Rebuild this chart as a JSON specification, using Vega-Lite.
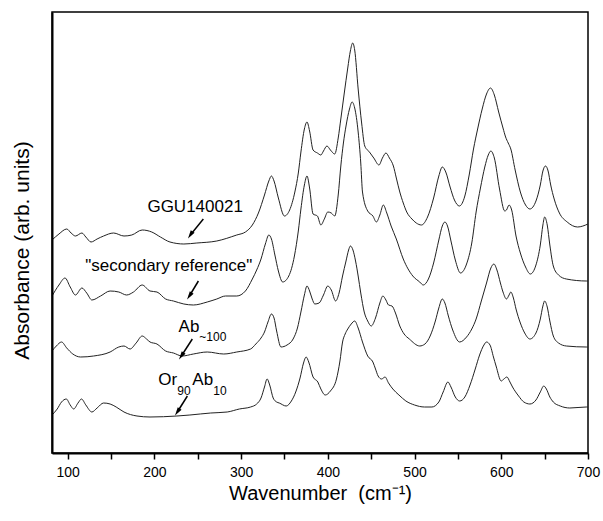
{
  "$schema": "https://vega.github.io/schema/vega-lite/v6.json",
  "width": 536,
  "height": 441,
  "autosize": {"type": "none"},
  "padding": {"left": 52, "top": 12, "right": 15, "bottom": 68},
  "background": "white",
  "config": {
    "view": {"stroke": "black", "strokeWidth": 1.5},
    "font": "Liberation Sans"
  },
  "datasets": {
    "spectra": [
      {"s":"GGU140021","w":82,"a":213},{"s":"GGU140021","w":90,"a":219},{"s":"GGU140021","w":99,"a":224},{"s":"GGU140021","w":104,"a":220},{"s":"GGU140021","w":109,"a":217},{"s":"GGU140021","w":116.5,"a":220},{"s":"GGU140021","w":121,"a":216},{"s":"GGU140021","w":127,"a":211},{"s":"GGU140021","w":134,"a":214},{"s":"GGU140021","w":141.5,"a":217},{"s":"GGU140021","w":153,"a":220},{"s":"GGU140021","w":165,"a":217},{"s":"GGU140021","w":174,"a":218},{"s":"GGU140021","w":186,"a":223},{"s":"GGU140021","w":197,"a":221},{"s":"GGU140021","w":207,"a":216},{"s":"GGU140021","w":218,"a":211},{"s":"GGU140021","w":234,"a":209},{"s":"GGU140021","w":249,"a":210},{"s":"GGU140021","w":272,"a":212},{"s":"GGU140021","w":295,"a":218},{"s":"GGU140021","w":305,"a":221},{"s":"GGU140021","w":313,"a":228},{"s":"GGU140021","w":320,"a":240},{"s":"GGU140021","w":327,"a":258},{"s":"GGU140021","w":332,"a":272},{"s":"GGU140021","w":335,"a":277},{"s":"GGU140021","w":338,"a":272},{"s":"GGU140021","w":343,"a":255},{"s":"GGU140021","w":350,"a":237},{"s":"GGU140021","w":356,"a":243},{"s":"GGU140021","w":362,"a":261},{"s":"GGU140021","w":366,"a":280},{"s":"GGU140021","w":369,"a":301},{"s":"GGU140021","w":373,"a":324},{"s":"GGU140021","w":376,"a":331},{"s":"GGU140021","w":379,"a":322},{"s":"GGU140021","w":383,"a":303},{"s":"GGU140021","w":388,"a":300},{"s":"GGU140021","w":392,"a":298},{"s":"GGU140021","w":395,"a":302},{"s":"GGU140021","w":399,"a":307},{"s":"GGU140021","w":403,"a":303},{"s":"GGU140021","w":408,"a":299},{"s":"GGU140021","w":412,"a":315},{"s":"GGU140021","w":415,"a":334},{"s":"GGU140021","w":419,"a":360},{"s":"GGU140021","w":423,"a":385},{"s":"GGU140021","w":426,"a":402},{"s":"GGU140021","w":428.7,"a":410},{"s":"GGU140021","w":431,"a":403},{"s":"GGU140021","w":435,"a":364},{"s":"GGU140021","w":439,"a":330},{"s":"GGU140021","w":442.6,"a":307},{"s":"GGU140021","w":448,"a":301},{"s":"GGU140021","w":453,"a":295},{"s":"GGU140021","w":459,"a":288},{"s":"GGU140021","w":463,"a":295},{"s":"GGU140021","w":467,"a":300},{"s":"GGU140021","w":471,"a":295},{"s":"GGU140021","w":475.6,"a":287},{"s":"GGU140021","w":479,"a":275},{"s":"GGU140021","w":483,"a":261},{"s":"GGU140021","w":487,"a":250},{"s":"GGU140021","w":491,"a":241},{"s":"GGU140021","w":497,"a":234},{"s":"GGU140021","w":502,"a":230},{"s":"GGU140021","w":508,"a":228},{"s":"GGU140021","w":515,"a":236},{"s":"GGU140021","w":522,"a":255},{"s":"GGU140021","w":528,"a":277},{"s":"GGU140021","w":532,"a":286},{"s":"GGU140021","w":536,"a":281},{"s":"GGU140021","w":541,"a":266},{"s":"GGU140021","w":546,"a":253},{"s":"GGU140021","w":551.7,"a":247},{"s":"GGU140021","w":558,"a":257},{"s":"GGU140021","w":563,"a":278},{"s":"GGU140021","w":568,"a":304},{"s":"GGU140021","w":573,"a":325},{"s":"GGU140021","w":578,"a":344},{"s":"GGU140021","w":583,"a":359},{"s":"GGU140021","w":587.6,"a":365},{"s":"GGU140021","w":592,"a":358},{"s":"GGU140021","w":597,"a":341},{"s":"GGU140021","w":602,"a":325},{"s":"GGU140021","w":605,"a":316},{"s":"GGU140021","w":608,"a":310},{"s":"GGU140021","w":611,"a":304},{"s":"GGU140021","w":616,"a":283},{"s":"GGU140021","w":622,"a":261},{"s":"GGU140021","w":628,"a":248},{"s":"GGU140021","w":633,"a":244},{"s":"GGU140021","w":640,"a":252},{"s":"GGU140021","w":645,"a":268},{"s":"GGU140021","w":648,"a":282},{"s":"GGU140021","w":651,"a":287},{"s":"GGU140021","w":654,"a":282},{"s":"GGU140021","w":657,"a":268},{"s":"GGU140021","w":661,"a":254},{"s":"GGU140021","w":667,"a":240},{"s":"GGU140021","w":676,"a":231},{"s":"GGU140021","w":688,"a":226},{"s":"GGU140021","w":700,"a":229},

      {"s":"secondary","w":82,"a":157},{"s":"secondary","w":90,"a":168},{"s":"secondary","w":97,"a":175},{"s":"secondary","w":103,"a":166},{"s":"secondary","w":109,"a":158},{"s":"secondary","w":116.5,"a":165},{"s":"secondary","w":122,"a":160},{"s":"secondary","w":128,"a":153},{"s":"secondary","w":138,"a":157},{"s":"secondary","w":149,"a":162},{"s":"secondary","w":159,"a":161},{"s":"secondary","w":168,"a":158},{"s":"secondary","w":176,"a":161},{"s":"secondary","w":186,"a":168},{"s":"secondary","w":195,"a":162},{"s":"secondary","w":203,"a":161},{"s":"secondary","w":213,"a":154},{"s":"secondary","w":222,"a":152},{"s":"secondary","w":234,"a":149},{"s":"secondary","w":245,"a":148},{"s":"secondary","w":261,"a":151},{"s":"secondary","w":272,"a":154},{"s":"secondary","w":282,"a":157},{"s":"secondary","w":295,"a":157},{"s":"secondary","w":305,"a":162},{"s":"secondary","w":313,"a":174},{"s":"secondary","w":318,"a":183},{"s":"secondary","w":323,"a":194},{"s":"secondary","w":328,"a":209},{"s":"secondary","w":332,"a":218},{"s":"secondary","w":335,"a":214},{"s":"secondary","w":339,"a":198},{"s":"secondary","w":343,"a":182},{"s":"secondary","w":348,"a":171},{"s":"secondary","w":355,"a":177},{"s":"secondary","w":361.5,"a":197},{"s":"secondary","w":366,"a":222},{"s":"secondary","w":369,"a":244},{"s":"secondary","w":373,"a":268},{"s":"secondary","w":376,"a":277},{"s":"secondary","w":379,"a":265},{"s":"secondary","w":383,"a":239},{"s":"secondary","w":388,"a":237},{"s":"secondary","w":392,"a":228},{"s":"secondary","w":396,"a":234},{"s":"secondary","w":400,"a":241},{"s":"secondary","w":404,"a":240},{"s":"secondary","w":408,"a":237},{"s":"secondary","w":412,"a":258},{"s":"secondary","w":415,"a":287},{"s":"secondary","w":418,"a":310},{"s":"secondary","w":421,"a":327},{"s":"secondary","w":425,"a":344},{"s":"secondary","w":428,"a":351},{"s":"secondary","w":431,"a":345},{"s":"secondary","w":435,"a":321},{"s":"secondary","w":438,"a":290},{"s":"secondary","w":440,"a":261},{"s":"secondary","w":446,"a":242},{"s":"secondary","w":452,"a":237},{"s":"secondary","w":456,"a":231},{"s":"secondary","w":460,"a":238},{"s":"secondary","w":464,"a":248},{"s":"secondary","w":468,"a":240},{"s":"secondary","w":473,"a":227},{"s":"secondary","w":479,"a":214},{"s":"secondary","w":487,"a":194},{"s":"secondary","w":498,"a":177},{"s":"secondary","w":506,"a":171},{"s":"secondary","w":510,"a":168},{"s":"secondary","w":516,"a":174},{"s":"secondary","w":522,"a":190},{"s":"secondary","w":528,"a":213},{"s":"secondary","w":532,"a":227},{"s":"secondary","w":535,"a":231},{"s":"secondary","w":538,"a":227},{"s":"secondary","w":542,"a":212},{"s":"secondary","w":547,"a":193},{"s":"secondary","w":553,"a":180},{"s":"secondary","w":560,"a":189},{"s":"secondary","w":566,"a":210},{"s":"secondary","w":571,"a":241},{"s":"secondary","w":576,"a":265},{"s":"secondary","w":581,"a":286},{"s":"secondary","w":585,"a":298},{"s":"secondary","w":588,"a":302},{"s":"secondary","w":592,"a":295},{"s":"secondary","w":598,"a":264},{"s":"secondary","w":604,"a":242},{"s":"secondary","w":606,"a":243},{"s":"secondary","w":609,"a":248},{"s":"secondary","w":612,"a":243},{"s":"secondary","w":617,"a":217},{"s":"secondary","w":622,"a":200},{"s":"secondary","w":628,"a":186},{"s":"secondary","w":633.5,"a":179},{"s":"secondary","w":640,"a":188},{"s":"secondary","w":645,"a":208},{"s":"secondary","w":648,"a":228},{"s":"secondary","w":650,"a":236},{"s":"secondary","w":653,"a":228},{"s":"secondary","w":656,"a":208},{"s":"secondary","w":660,"a":187},{"s":"secondary","w":666,"a":178},{"s":"secondary","w":675,"a":174},{"s":"secondary","w":698,"a":172},{"s":"secondary","w":700,"a":172},

      {"s":"Ab100","w":82,"a":102},{"s":"Ab100","w":87,"a":107},{"s":"Ab100","w":93,"a":111},{"s":"Ab100","w":99,"a":105},{"s":"Ab100","w":106,"a":99},{"s":"Ab100","w":115,"a":96},{"s":"Ab100","w":130,"a":97},{"s":"Ab100","w":149,"a":101},{"s":"Ab100","w":159,"a":106},{"s":"Ab100","w":165,"a":107},{"s":"Ab100","w":172,"a":104},{"s":"Ab100","w":179,"a":110},{"s":"Ab100","w":186,"a":117},{"s":"Ab100","w":191,"a":114},{"s":"Ab100","w":195,"a":111},{"s":"Ab100","w":203,"a":109},{"s":"Ab100","w":213,"a":102},{"s":"Ab100","w":222,"a":100},{"s":"Ab100","w":232,"a":97},{"s":"Ab100","w":245,"a":99},{"s":"Ab100","w":261,"a":101},{"s":"Ab100","w":280,"a":99},{"s":"Ab100","w":295,"a":101},{"s":"Ab100","w":311,"a":104},{"s":"Ab100","w":317,"a":109},{"s":"Ab100","w":323,"a":115},{"s":"Ab100","w":327,"a":121},{"s":"Ab100","w":331,"a":131},{"s":"Ab100","w":335,"a":139},{"s":"Ab100","w":338,"a":135},{"s":"Ab100","w":341,"a":122},{"s":"Ab100","w":346,"a":106},{"s":"Ab100","w":353,"a":108},{"s":"Ab100","w":360,"a":114},{"s":"Ab100","w":365,"a":125},{"s":"Ab100","w":369,"a":141},{"s":"Ab100","w":373,"a":158},{"s":"Ab100","w":376,"a":167},{"s":"Ab100","w":379,"a":162},{"s":"Ab100","w":382,"a":154},{"s":"Ab100","w":385,"a":149},{"s":"Ab100","w":390,"a":150},{"s":"Ab100","w":395,"a":158},{"s":"Ab100","w":400,"a":167},{"s":"Ab100","w":404,"a":163},{"s":"Ab100","w":409,"a":152},{"s":"Ab100","w":413,"a":160},{"s":"Ab100","w":417,"a":177},{"s":"Ab100","w":421,"a":192},{"s":"Ab100","w":424,"a":203},{"s":"Ab100","w":426,"a":207},{"s":"Ab100","w":429,"a":203},{"s":"Ab100","w":432,"a":192},{"s":"Ab100","w":435,"a":177},{"s":"Ab100","w":438,"a":160},{"s":"Ab100","w":442,"a":141},{"s":"Ab100","w":446,"a":132},{"s":"Ab100","w":450,"a":127},{"s":"Ab100","w":455,"a":135},{"s":"Ab100","w":460,"a":150},{"s":"Ab100","w":463.5,"a":157},{"s":"Ab100","w":467,"a":153},{"s":"Ab100","w":470,"a":148},{"s":"Ab100","w":474,"a":147},{"s":"Ab100","w":478,"a":140},{"s":"Ab100","w":483,"a":127},{"s":"Ab100","w":488,"a":119},{"s":"Ab100","w":494,"a":114},{"s":"Ab100","w":506,"a":107},{"s":"Ab100","w":512,"a":109},{"s":"Ab100","w":518,"a":117},{"s":"Ab100","w":524,"a":132},{"s":"Ab100","w":528,"a":145},{"s":"Ab100","w":532,"a":154},{"s":"Ab100","w":535,"a":150},{"s":"Ab100","w":539,"a":137},{"s":"Ab100","w":544,"a":123},{"s":"Ab100","w":552,"a":111},{"s":"Ab100","w":560,"a":116},{"s":"Ab100","w":566,"a":124},{"s":"Ab100","w":571,"a":134},{"s":"Ab100","w":577,"a":152},{"s":"Ab100","w":583,"a":170},{"s":"Ab100","w":588,"a":185},{"s":"Ab100","w":591.5,"a":189},{"s":"Ab100","w":595,"a":183},{"s":"Ab100","w":599,"a":170},{"s":"Ab100","w":602,"a":161},{"s":"Ab100","w":606,"a":154},{"s":"Ab100","w":609,"a":158},{"s":"Ab100","w":611,"a":161},{"s":"Ab100","w":614,"a":155},{"s":"Ab100","w":617,"a":144},{"s":"Ab100","w":622,"a":130},{"s":"Ab100","w":627,"a":120},{"s":"Ab100","w":633,"a":114},{"s":"Ab100","w":640,"a":120},{"s":"Ab100","w":645,"a":134},{"s":"Ab100","w":648,"a":147},{"s":"Ab100","w":650,"a":152},{"s":"Ab100","w":653,"a":146},{"s":"Ab100","w":656,"a":132},{"s":"Ab100","w":660,"a":117},{"s":"Ab100","w":666,"a":110},{"s":"Ab100","w":675,"a":107},{"s":"Ab100","w":698,"a":106},{"s":"Ab100","w":700,"a":106},

      {"s":"Or90Ab10","w":82,"a":38},{"s":"Or90Ab10","w":88,"a":44},{"s":"Or90Ab10","w":93,"a":51},{"s":"Or90Ab10","w":98.5,"a":54},{"s":"Or90Ab10","w":103,"a":48},{"s":"Or90Ab10","w":107,"a":44},{"s":"Or90Ab10","w":112,"a":50},{"s":"Or90Ab10","w":116,"a":54},{"s":"Or90Ab10","w":121,"a":48},{"s":"Or90Ab10","w":128,"a":41},{"s":"Or90Ab10","w":134,"a":45},{"s":"Or90Ab10","w":141.5,"a":50},{"s":"Or90Ab10","w":149,"a":49},{"s":"Or90Ab10","w":156,"a":46},{"s":"Or90Ab10","w":165,"a":41},{"s":"Or90Ab10","w":180,"a":37},{"s":"Or90Ab10","w":195,"a":36},{"s":"Or90Ab10","w":226,"a":37},{"s":"Or90Ab10","w":241,"a":38},{"s":"Or90Ab10","w":265,"a":40},{"s":"Or90Ab10","w":284,"a":41},{"s":"Or90Ab10","w":298,"a":44},{"s":"Or90Ab10","w":311,"a":46},{"s":"Or90Ab10","w":318,"a":49},{"s":"Or90Ab10","w":323,"a":55},{"s":"Or90Ab10","w":327,"a":66},{"s":"Or90Ab10","w":330,"a":74},{"s":"Or90Ab10","w":333,"a":68},{"s":"Or90Ab10","w":337,"a":55},{"s":"Or90Ab10","w":341,"a":51},{"s":"Or90Ab10","w":344,"a":50},{"s":"Or90Ab10","w":352,"a":47},{"s":"Or90Ab10","w":358,"a":52},{"s":"Or90Ab10","w":363,"a":61},{"s":"Or90Ab10","w":368,"a":75},{"s":"Or90Ab10","w":372,"a":90},{"s":"Or90Ab10","w":375,"a":96},{"s":"Or90Ab10","w":378,"a":91},{"s":"Or90Ab10","w":383,"a":76},{"s":"Or90Ab10","w":388.5,"a":71},{"s":"Or90Ab10","w":392,"a":64},{"s":"Or90Ab10","w":397,"a":58},{"s":"Or90Ab10","w":403,"a":62},{"s":"Or90Ab10","w":410,"a":74},{"s":"Or90Ab10","w":414,"a":92},{"s":"Or90Ab10","w":417,"a":111},{"s":"Or90Ab10","w":420,"a":119},{"s":"Or90Ab10","w":423,"a":124},{"s":"Or90Ab10","w":427,"a":129},{"s":"Or90Ab10","w":431,"a":132},{"s":"Or90Ab10","w":435,"a":125},{"s":"Or90Ab10","w":440,"a":111},{"s":"Or90Ab10","w":446,"a":97},{"s":"Or90Ab10","w":452,"a":91},{"s":"Or90Ab10","w":455,"a":84},{"s":"Or90Ab10","w":458,"a":77},{"s":"Or90Ab10","w":462,"a":74},{"s":"Or90Ab10","w":466,"a":76},{"s":"Or90Ab10","w":470,"a":70},{"s":"Or90Ab10","w":475,"a":64},{"s":"Or90Ab10","w":482,"a":58},{"s":"Or90Ab10","w":490,"a":52},{"s":"Or90Ab10","w":500,"a":48},{"s":"Or90Ab10","w":511.5,"a":46},{"s":"Or90Ab10","w":520,"a":46},{"s":"Or90Ab10","w":528,"a":51},{"s":"Or90Ab10","w":533,"a":61},{"s":"Or90Ab10","w":538.5,"a":71},{"s":"Or90Ab10","w":542,"a":66},{"s":"Or90Ab10","w":547,"a":56},{"s":"Or90Ab10","w":552,"a":52},{"s":"Or90Ab10","w":558,"a":56},{"s":"Or90Ab10","w":564,"a":68},{"s":"Or90Ab10","w":570,"a":84},{"s":"Or90Ab10","w":575,"a":98},{"s":"Or90Ab10","w":580,"a":108},{"s":"Or90Ab10","w":583,"a":111},{"s":"Or90Ab10","w":587,"a":108},{"s":"Or90Ab10","w":591,"a":96},{"s":"Or90Ab10","w":594,"a":87},{"s":"Or90Ab10","w":600,"a":72},{"s":"Or90Ab10","w":603,"a":74},{"s":"Or90Ab10","w":606.5,"a":76},{"s":"Or90Ab10","w":610,"a":71},{"s":"Or90Ab10","w":613,"a":66},{"s":"Or90Ab10","w":620,"a":57},{"s":"Or90Ab10","w":626,"a":51},{"s":"Or90Ab10","w":633,"a":49},{"s":"Or90Ab10","w":640,"a":53},{"s":"Or90Ab10","w":645,"a":61},{"s":"Or90Ab10","w":649,"a":67},{"s":"Or90Ab10","w":652,"a":64},{"s":"Or90Ab10","w":656,"a":56},{"s":"Or90Ab10","w":660,"a":51},{"s":"Or90Ab10","w":668,"a":47},{"s":"Or90Ab10","w":679,"a":45},{"s":"Or90Ab10","w":698,"a":46},{"s":"Or90Ab10","w":700,"a":46}
    ],
    "arrows": [
      {"s":"GGU140021","w":256.5,"a":234,"w2":241.5,"a2":218},
      {"s":"secondary","w":250.8,"a":172,"w2":240.4,"a2":157},
      {"s":"Ab100","w":243.8,"a":114,"w2":231.1,"a2":97},
      {"s":"Or90Ab10","w":238.1,"a":57,"w2":226.5,"a2":41}
    ],
    "labels": [
      {"t":"GGU140021","w":192.0,"a":241},
      {"t":"\"secondary reference\"","w":120.4,"a":182},
      {"t":"Ab","w":227.9,"a":121},
      {"t":"Or","w":204.6,"a":68},
      {"t":"Ab","w":243.8,"a":68}
    ],
    "sublabels": [
      {"t":"~100","w":251.9,"a":112},
      {"t":"90","w":226.5,"a":58},
      {"t":"10","w":268.0,"a":58}
    ]
  },
  "layer": [
    {
      "data": {"name": "spectra"},
      "mark": {"type": "line", "stroke": "#222222", "strokeWidth": 1, "interpolate": "monotone"},
      "encoding": {
        "x": {
          "field": "w", "type": "quantitative",
          "scale": {"domain": [82, 700], "nice": false, "zero": false},
          "title": "Wavenumber\u00a0\u00a0(cm⁻¹)",
          "axis": {
            "values": [100,150,200,250,300,350,400,450,500,550,600,650,700],
            "labelExpr": "datum.value % 100 === 0 ? datum.label : ''",
            "ticks": true,
            "tickSize": 6,
            "tickColor": "black", "tickWidth": 1.5,
            "zindex": 1,
            "domainColor": "black", "domainWidth": 2,
            "labelFont": "Liberation Sans", "labelFontSize": 14, "labelColor": "black",
            "labelPadding": 6, "labelFlush": false, "labelOverlap": false, "labelBound": false,
            "grid": false,
            "titleFont": "Liberation Sans", "titleFontSize": 20, "titleFontWeight": "normal", "titleColor": "black",
            "titleY": 40, "titleBaseline": "middle"
          }
        },
        "y": {
          "field": "a", "type": "quantitative",
          "scale": {"domain": [0, 441], "nice": false, "zero": false},
          "title": "Absorbance (arb. units)",
          "axis": {
            "ticks": false, "labels": false, "grid": false,
            "domainColor": "black", "domainWidth": 2,
            "zindex": 1,
            "titleFont": "Liberation Sans", "titleFontSize": 21, "titleFontWeight": "normal", "titleColor": "black",
            "titleX": -30, "titleY": 238, "titleBaseline": "middle", "titleAlign": "center", "titleAngle": -90
          }
        },
        "detail": {"field": "s", "type": "nominal"}
      }
    },
    {
      "data": {"name": "arrows"},
      "mark": {"type": "rule", "stroke": "black", "strokeWidth": 1.5},
      "encoding": {
        "x": {"field": "w", "type": "quantitative", "title": "Wavenumber\u00a0\u00a0(cm⁻¹)"},
        "y": {"field": "a", "type": "quantitative", "title": "Absorbance (arb. units)"},
        "x2": {"field": "w2"},
        "y2": {"field": "a2"}
      }
    },
    {
      "data": {"name": "arrows"},
      "mark": {"type": "point", "shape": "M0,-1L0.55,1L-0.55,1Z", "filled": true, "fill": "black", "stroke": null, "opacity": 1, "size": 70, "angle": 214},
      "encoding": {
        "x": {"field": "w2", "type": "quantitative", "title": "Wavenumber\u00a0\u00a0(cm⁻¹)"},
        "y": {"field": "a2", "type": "quantitative", "title": "Absorbance (arb. units)"}
      }
    },
    {
      "data": {"name": "labels"},
      "mark": {"type": "text", "font": "Liberation Sans", "fontSize": 17, "fill": "black", "align": "left", "baseline": "alphabetic"},
      "encoding": {
        "x": {"field": "w", "type": "quantitative", "title": "Wavenumber\u00a0\u00a0(cm⁻¹)"},
        "y": {"field": "a", "type": "quantitative", "title": "Absorbance (arb. units)"},
        "text": {"field": "t"}
      }
    },
    {
      "data": {"name": "sublabels"},
      "mark": {"type": "text", "font": "Liberation Sans", "fontSize": 12, "fill": "black", "align": "left", "baseline": "alphabetic"},
      "encoding": {
        "x": {"field": "w", "type": "quantitative", "title": "Wavenumber\u00a0\u00a0(cm⁻¹)"},
        "y": {"field": "a", "type": "quantitative", "title": "Absorbance (arb. units)"},
        "text": {"field": "t"}
      }
    }
  ]
}
